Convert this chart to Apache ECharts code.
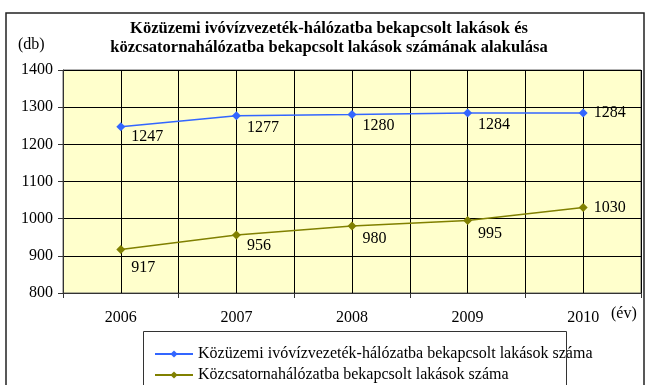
<!DOCTYPE html>
<html>
<head>
<meta charset="utf-8">
<script src="https://cdn.jsdelivr.net/npm/echarts@6/dist/echarts.min.js"></script>
<style>
  html, body { margin: 0; padding: 0; background: #fff; }
  #chart { width: 646px; height: 385px; }
</style>
</head>
<body>
<div id="chart"></div>
<script>
// Years on the category axis
const years = ['2006', '2007', '2008', '2009', '2010'];

// Dwellings connected to the public drinking-water network
const waterSeriesName = 'Közüzemi ivóvízvezeték-hálózatba bekapcsolt lakások száma';
const waterValues = [1247, 1277, 1280, 1284, 1284];

// Dwellings connected to the public sewer network
const sewerSeriesName = 'Közcsatornahálózatba bekapcsolt lakások száma';
const sewerValues = [917, 956, 980, 995, 1030];

// Value axis range
const yMin = 800;
const yMax = 1400;
const yStep = 100;

// Vertical nudge of each value label (px), per point
const waterLabelShift = [10, 12, 11, 12, 0];
const sewerLabelShift = [18, 11, 13, 13, 0];

const serif = '"Liberation Serif", "Times New Roman", serif';
const titleText = 'Közüzemi ivóvízvezeték-hálózatba bekapcsolt lakások és\nközcsatornahálózatba bekapcsolt lakások számának alakulása';

function withLabels(values, shifts) {
  return values.map((v, i) => ({
    value: v,
    label: { offset: [0, shifts[i]] }
  }));
}

const chart = echarts.init(document.getElementById('chart'), null, { renderer: 'canvas' });

const valueLabel = {
  show: true,
  position: 'right',
  distance: 6,
  fontFamily: serif,
  fontSize: 16,
  color: '#000'
};

chart.setOption({
  animation: false,
  backgroundColor: '#ffffff',
  grid: {
    left: 63,
    right: 5,
    top: 70,
    bottom: 92,
    show: true,
    backgroundColor: '#FFFFCC',
    borderColor: '#666',
    borderWidth: 1
  },
  legend: {
    orient: 'vertical',
    left: 150,
    top: 342,
    padding: [4, 4, 0, 4],
    itemGap: 5,
    itemWidth: 38,
    itemHeight: 9,
    textStyle: { fontFamily: serif, fontSize: 16, color: '#000' },
    data: [waterSeriesName, sewerSeriesName]
  },
  xAxis: [
    {
      type: 'category',
      data: years,
      boundaryGap: true,
      axisLine: { lineStyle: { color: '#333', width: 1 } },
      axisTick: { show: true, length: 5, lineStyle: { color: '#333' } },
      axisLabel: { fontFamily: serif, fontSize: 16, color: '#000', margin: 17 },
      splitLine: { show: false }
    },
    {
      // Fine vertical grid: band edges plus band centres
      type: 'value',
      min: 0,
      max: 10,
      interval: 1,
      position: 'top',
      axisLine: { show: false },
      axisTick: { show: false },
      axisLabel: { show: false },
      splitLine: { show: true, lineStyle: { color: '#000', width: 1 } }
    }
  ],
  yAxis: {
    type: 'value',
    min: yMin,
    max: yMax,
    interval: yStep,
    axisLine: { show: true, lineStyle: { color: '#333', width: 1 } },
    axisTick: { show: true, length: 5, lineStyle: { color: '#333' } },
    axisLabel: {
      fontFamily: serif,
      fontSize: 16,
      color: '#000',
      margin: 10,
      formatter: (v) => String(v)
    },
    splitLine: { show: true, lineStyle: { color: '#000', width: 1 } }
  },
  series: [
    {
      name: waterSeriesName,
      type: 'line',
      xAxisIndex: 0,
      data: withLabels(waterValues, waterLabelShift),
      symbol: 'diamond',
      symbolSize: 9,
      color: '#3366FF',
      lineStyle: { width: 1.5, color: '#3366FF' },
      itemStyle: { color: '#3366FF' },
      label: valueLabel,
      z: 5
    },
    {
      name: sewerSeriesName,
      type: 'line',
      xAxisIndex: 0,
      data: withLabels(sewerValues, sewerLabelShift),
      symbol: 'diamond',
      symbolSize: 9,
      color: '#808000',
      lineStyle: { width: 1.5, color: '#808000' },
      itemStyle: { color: '#808000' },
      label: valueLabel,
      z: 5
    }
  ],
  graphic: [
    {
      // outer chart frame
      type: 'rect',
      shape: { x: 6, y: 13, width: 638, height: 385 },
      style: { fill: 'none', stroke: '#222', lineWidth: 1.5 },
      silent: true,
      z: 100
    },
    {
      // legend frame
      type: 'rect',
      shape: { x: 143.5, y: 331.5, width: 423, height: 70 },
      style: { fill: 'none', stroke: '#333', lineWidth: 1 },
      silent: true,
      z: 100
    },
    {
      type: 'text',
      x: 329,
      y: 19,
      style: {
        text: titleText,
        font: 'bold 16.5px ' + serif,
        lineHeight: 19,
        textAlign: 'center',
        fill: '#000'
      },
      silent: true
    },
    {
      type: 'text',
      x: 18,
      y: 37,
      style: { text: '(db)', font: '16px ' + serif, fill: '#000' },
      silent: true
    },
    {
      type: 'text',
      x: 611,
      y: 306,
      style: { text: '(év)', font: '16px ' + serif, fill: '#000' },
      silent: true
    }
  ]
});
</script>
</body>
</html>
